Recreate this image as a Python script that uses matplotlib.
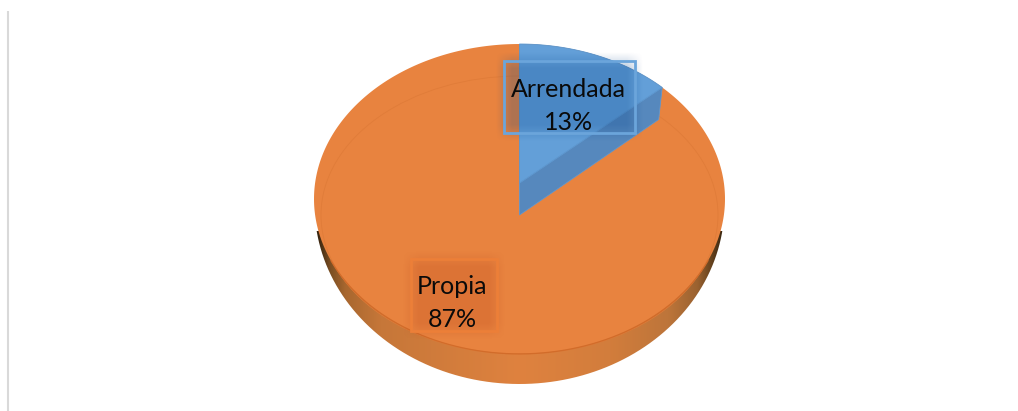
import numpy as np
import matplotlib
matplotlib.use("Agg")
import matplotlib.pyplot as plt
from matplotlib.path import Path
from matplotlib.patches import PathPatch, Rectangle, Ellipse
from matplotlib.colors import LinearSegmentedColormap

categories = ["Arrendada", "Propia"]
values = [13.4, 86.6]

W, H = 1018, 411
fig = plt.figure(figsize=(W / 100, H / 100), dpi=100)
ax = fig.add_axes([0, 0, 1, 1])
ax.set_xlim(0, W)
ax.set_ylim(H, 0)
ax.axis("off")

CX, CY = 519.5, 183.0
PW, PA, PK = 204.4, 153.3, 0.103
DEPTH = np.array([-3.5, 32.0])


def project(theta):
    sx, sy = np.sin(theta), np.cos(theta)
    d = 1 + PK * sy
    return np.column_stack([CX + PW * sx / d, CY - PA * sy / d])


fractions = np.cumsum([0] + values) / sum(values)
angles = 2 * np.pi * fractions
centre = np.array([[CX, CY]])
blue_arc = project(np.linspace(angles[0], angles[1], 80))
rim = project(np.linspace(angles[0], angles[2], 500))

# side wall, horizontal gradient clipped to silhouette
t = np.linspace(0, 2 * np.pi, 400)
wall_low = np.column_stack([519.5 + 205 * np.cos(t), 205 + 179 * np.sin(t)])
wall_clip = PathPatch(Path(np.vstack([wall_low, wall_low[:1]])), fc="none", ec="none")
ax.add_patch(wall_clip)
stops = [(0.0, "#2a1c0c"), (0.015, "#3a2610"), (0.043, "#7a4e22"), (0.08, "#a8672f"), (0.165, "#c67739"),
         (0.5, "#df823f"), (0.72, "#d27d3c"), (0.86, "#bd753a"), (0.93, "#9a6230"), (0.97, "#5c3c1a"), (1.0, "#2a1c0c")]
cmap = LinearSegmentedColormap.from_list("wall", stops, N=1024)
im = ax.imshow(np.linspace(0, 1, 800)[None, :], cmap=cmap, extent=(312, 727, 390, 232),
               aspect="auto", zorder=1)
im.set_clip_path(wall_clip)

# top faces
ax.fill(rim[:, 0], rim[:, 1], fc="#e8833f", ec="none", zorder=2)
ax.add_patch(Ellipse((519.5, 215), 397, 278, fc="none", ec="#e07c39", lw=0.6, zorder=2.2))
front = project(np.linspace(np.pi * 0.66, np.pi * 1.34, 200))
ax.plot(front[:, 0], front[:, 1], color="#d26c2a", lw=0.9, zorder=2.3)

# blue wedge and its cut face
corner = blue_arc[-1]
side = np.array([centre[0], corner, corner + DEPTH, centre[0] + [0, 32]])
ax.fill(side[:, 0], side[:, 1], fc="#5688bd", ec="#5f97cf", lw=0.6, zorder=3)
blue = np.vstack([centre, blue_arc])
ax.fill(blue[:, 0], blue[:, 1], fc="#639fd8", ec="#5b97d0", lw=0.6, zorder=3.1)


def shadow(x0, y0, x1, y1, blur, alpha, colour):
    xs = np.arange(x0 - 2 * blur, x1 + 2 * blur, 1.0) + 0.5
    ys = np.arange(y0 - 2 * blur, y1 + 2 * blur, 1.0) + 0.5
    fx = np.clip(np.minimum(xs - x0 + blur, x1 - xs + blur) / (2 * blur), 0, 1)
    fy = np.clip(np.minimum(ys - y0 + blur, y1 - ys + blur) / (2 * blur), 0, 1)
    rgba = np.zeros((len(ys), len(xs), 4))
    rgba[..., :3] = colour
    rgba[..., 3] = np.outer(fy, fx) * alpha
    ax.imshow(rgba, extent=(xs[0] - .5, xs[-1] + .5, ys[-1] + .5, ys[0] - .5),
              aspect="auto", zorder=4, interpolation="bilinear")


label_boxes = [(504, 61, 635, 133, "#6ba5db", 568.5, 106, (0, .25, .53), .25),
               (411, 259, 497, 331, "#ec7f38", 452.5, 303, (.6, .1, 0), .15)]
for (cat, val, box) in zip(categories, values, label_boxes):
    x0, y0, x1, y1, ec, tx, ty, sc, sa = box
    shadow(x0, y0, x1, y1, 8, sa, sc)
    ax.add_patch(Rectangle((x0, y0), x1 - x0, y1 - y0, fc="none", ec=ec, lw=2.0, zorder=5))
    ax.text(tx, ty, f"{cat}\n{val:.0f}%", ha="center", va="center", fontsize=18,
            family="Lato", color="#0a0a0a", linespacing=1.55, zorder=6)

ax.plot([8, 8], [11, H], color="#d9d9d9", lw=1.5, zorder=1, solid_capstyle="butt")
ax.set_xlim(0, W)
ax.set_ylim(H, 0)
fig.savefig("out.png", dpi=100)
